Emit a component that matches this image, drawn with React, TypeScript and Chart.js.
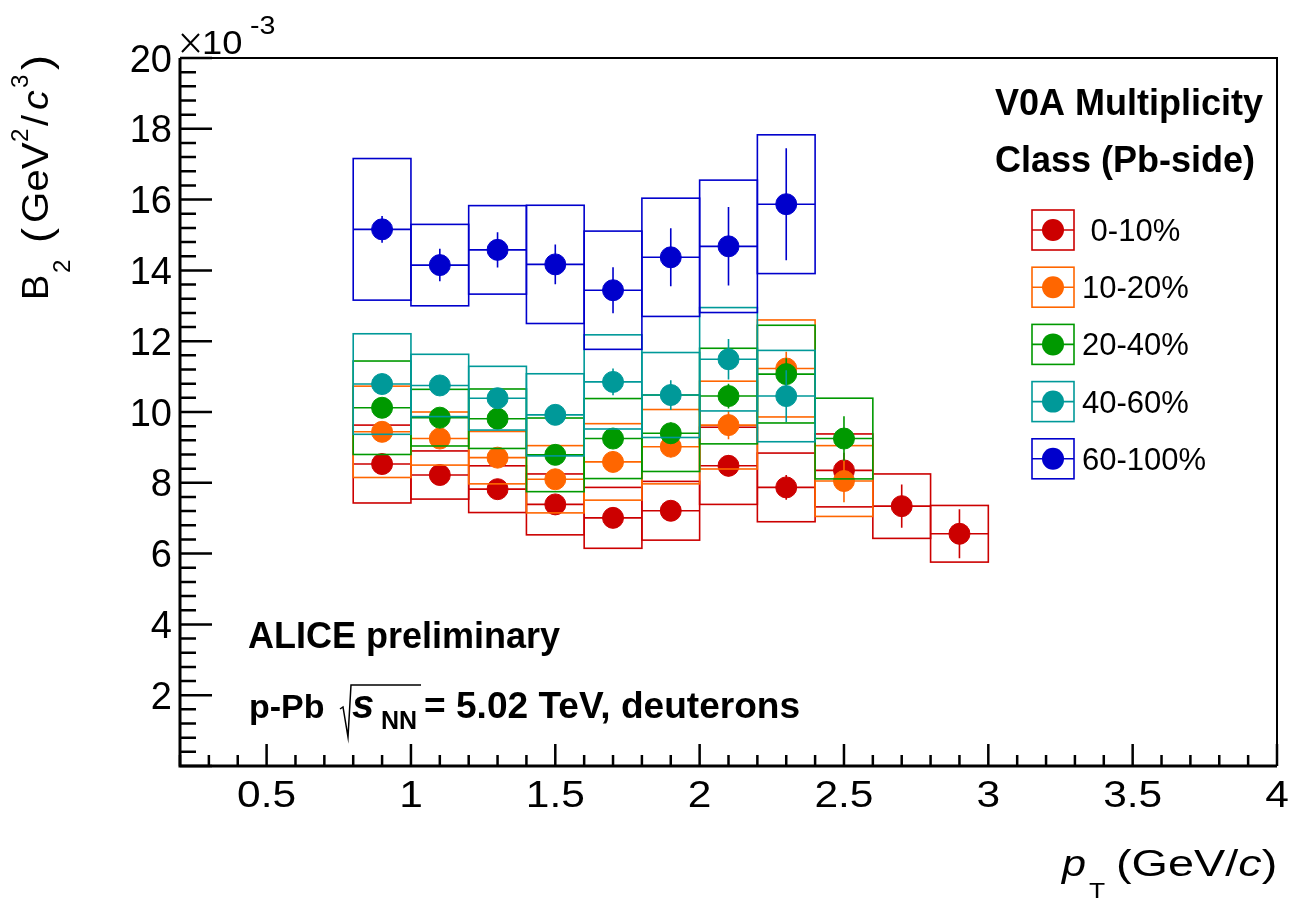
import { useEffect, useRef } from "react";
import { Chart, registerables } from "chart.js";

Chart.register(...registerables);

// pT bin centres (GeV/c); every bin is 0.2 GeV/c wide
const BIN_CENTERS = [0.9, 1.1, 1.3, 1.5, 1.7, 1.9, 2.1, 2.3, 2.5, 2.7, 2.9];
const BIN_HALF_WIDTH = 0.1;

const CLASS_LABELS = [" 0-10%", "10-20%", "20-40%", "40-60%", "60-100%"];
const CLASS_COLORS = ["#cc0000", "#ff6600", "#009900", "#009999", "#0000cc"];

// B2 values in units of 1e-3 GeV^2/c^3, with statistical and systematic uncertainties
const B2_0_10 = [8.53, 8.22, 7.82, 7.39, 7.01, 7.21, 8.48, 7.87, 8.35, 7.34, 6.56];
const STAT_0_10 = [0.2, 0.2, 0.2, 0.25, 0.25, 0.25, 0.3, 0.35, 0.5, 0.61, 0.69];
const SYS_0_10 = [1.1, 0.68, 0.66, 0.86, 0.86, 0.83, 1.09, 0.97, 1.03, 0.91, 0.8];

const B2_10_20 = [9.44, 9.25, 8.71, 8.1, 8.59, 9.02, 9.63, 11.23, 8.05];
const STAT_10_20 = [0.2, 0.2, 0.22, 0.25, 0.25, 0.3, 0.4, 0.47, 0.6];
const SYS_10_20 = [1.29, 0.75, 0.74, 0.95, 1.08, 1.05, 1.24, 1.37, 1.0];

const B2_20_40 = [10.12, 9.84, 9.81, 8.79, 9.25, 9.4, 10.45, 11.07, 9.25];
const STAT_20_40 = [0.2, 0.2, 0.22, 0.25, 0.25, 0.3, 0.35, 0.45, 0.63];
const SYS_20_40 = [1.32, 0.8, 0.84, 1.04, 1.13, 1.08, 1.35, 1.38, 1.14];

const B2_40_60 = [10.79, 10.75, 10.39, 9.92, 10.85, 10.48, 11.49, 10.45];
const STAT_40_60 = [0.25, 0.25, 0.25, 0.28, 0.38, 0.42, 0.57, 0.73];
const SYS_40_60 = [1.42, 0.88, 0.9, 1.16, 1.33, 1.2, 1.46, 1.29];

const B2_60_100 = [15.16, 14.15, 14.58, 14.17, 13.44, 14.37, 14.68, 15.87];
const STAT_60_100 = [0.38, 0.46, 0.5, 0.56, 0.65, 0.82, 1.11, 1.58];
const SYS_60_100 = [2.0, 1.15, 1.25, 1.67, 1.67, 1.67, 1.87, 1.96];

// axes
const X_MIN = 0.2;
const X_MAX = 4;
const Y_MIN = 0;
const Y_MAX = 20;
const X_TICKS = [0.5, 1, 1.5, 2, 2.5, 3, 3.5, 4];
const X_TICK_LABELS = ["0.5", "1", "1.5", "2", "2.5", "3", "3.5", "4"];
const Y_TICKS = [2, 4, 6, 8, 10, 12, 14, 16, 18, 20];
const Y_TICK_LABELS = ["2", "4", "6", "8", "10", "12", "14", "16", "18", "20"];
const X_MINOR_STEP = 0.1;
const Y_MINOR_STEP = 0.4;

const FONT = "'Liberation Sans', Arial, Helvetica, sans-serif";

type Series = { label: string; color: string; y: number[]; stat: number[]; sys: number[] };

const SERIES: Series[] = [
  { label: CLASS_LABELS[0], color: CLASS_COLORS[0], y: B2_0_10, stat: STAT_0_10, sys: SYS_0_10 },
  { label: CLASS_LABELS[1], color: CLASS_COLORS[1], y: B2_10_20, stat: STAT_10_20, sys: SYS_10_20 },
  { label: CLASS_LABELS[2], color: CLASS_COLORS[2], y: B2_20_40, stat: STAT_20_40, sys: SYS_20_40 },
  { label: CLASS_LABELS[3], color: CLASS_COLORS[3], y: B2_40_60, stat: STAT_40_60, sys: SYS_40_60 },
  { label: CLASS_LABELS[4], color: CLASS_COLORS[4], y: B2_60_100, stat: STAT_60_100, sys: SYS_60_100 },
];

// draws text horizontally stretched by sx, anchored at (x, baseline y); returns drawn width
function put(
  ctx: CanvasRenderingContext2D,
  text: string,
  x: number,
  y: number,
  font: string,
  sx = 1,
  align: "left" | "center" | "right" = "left"
) {
  ctx.save();
  ctx.font = font;
  ctx.textAlign = "left";
  ctx.textBaseline = "alphabetic";
  const w = ctx.measureText(text).width * sx;
  const x0 = align === "right" ? x - w : align === "center" ? x - w / 2 : x;
  ctx.translate(x0, y);
  ctx.scale(sx, 1);
  ctx.fillText(text, 0, 0);
  ctx.restore();
  return w;
}

const seriesPlugin = {
  id: "sysBoxes",
  beforeDatasetDraw(chart: any, args: any) {
    const s = SERIES[args.index];
    if (!s) return;
    const { ctx } = chart;
    const xs = chart.scales.x;
    const ys = chart.scales.y;
    ctx.save();
    ctx.strokeStyle = s.color;
    ctx.lineWidth = 1.6;
    s.y.forEach((v, j) => {
      const xc = BIN_CENTERS[j];
      const xl = xs.getPixelForValue(xc - BIN_HALF_WIDTH);
      const xr = xs.getPixelForValue(xc + BIN_HALF_WIDTH);
      const xm = xs.getPixelForValue(xc);
      const yt = ys.getPixelForValue(v + s.sys[j]);
      const yb = ys.getPixelForValue(v - s.sys[j]);
      const yv = ys.getPixelForValue(v);
      ctx.strokeRect(xl, yt, xr - xl, yb - yt);
      ctx.beginPath();
      ctx.moveTo(xl, yv);
      ctx.lineTo(xr, yv);
      ctx.moveTo(xm, ys.getPixelForValue(v + s.stat[j]));
      ctx.lineTo(xm, ys.getPixelForValue(v - s.stat[j]));
      ctx.stroke();
    });
    ctx.restore();
  },
};

const framePlugin = {
  id: "rootFrame",
  afterDraw(chart: any) {
    const { ctx, chartArea } = chart;
    const { left, right, top, bottom } = chartArea;
    const xs = chart.scales.x;
    const ys = chart.scales.y;
    ctx.save();
    ctx.strokeStyle = "#000";
    ctx.fillStyle = "#000";

    // ticks (pointing into the frame)
    ctx.lineWidth = 2.5;
    ctx.beginPath();
    for (let v = Y_MIN; v <= Y_MAX + 1e-9; v += Y_MINOR_STEP) {
      const py = ys.getPixelForValue(v);
      const major = Math.abs(v / 2 - Math.round(v / 2)) < 1e-6;
      ctx.moveTo(left, py);
      ctx.lineTo(left + (major ? 32 : 16), py);
    }
    for (let v = X_MIN; v <= X_MAX + 1e-9; v += X_MINOR_STEP) {
      const px = xs.getPixelForValue(v);
      const major = Math.abs(v * 2 - Math.round(v * 2)) < 1e-6;
      ctx.moveTo(px, bottom);
      ctx.lineTo(px, bottom - (major ? 22 : 11));
    }
    ctx.stroke();

    // frame
    ctx.lineWidth = 2;
    ctx.beginPath();
    ctx.moveTo(left, top);
    ctx.lineTo(right, top);
    ctx.lineTo(right, bottom);
    ctx.stroke();
    ctx.lineWidth = 3;
    ctx.beginPath();
    ctx.moveTo(left, top);
    ctx.lineTo(left, bottom);
    ctx.lineTo(right, bottom);
    ctx.stroke();

    // tick labels
    Y_TICKS.forEach((v, i) => {
      put(ctx, Y_TICK_LABELS[i], left - 8, ys.getPixelForValue(v) + 13.5, `38px ${FONT}`, 1, "right");
    });
    X_TICKS.forEach((v, i) => {
      put(ctx, X_TICK_LABELS[i], xs.getPixelForValue(v), 807, `36px ${FONT}`, 1.18, "center");
    });

    // exponent: ×10^-3
    ctx.lineWidth = 2;
    ctx.beginPath();
    ctx.moveTo(182, 34);
    ctx.lineTo(199, 52);
    ctx.moveTo(199, 34);
    ctx.lineTo(182, 52);
    ctx.stroke();
    put(ctx, "10", 202, 54, `33px ${FONT}`, 1.1);
    put(ctx, "-3", 250, 34, `26px ${FONT}`, 1.1);

    // x title: pT (GeV/c)
    put(ctx, "p", 1062, 876, `italic 36px ${FONT}`, 1.2);
    put(ctx, "T", 1089, 898, `22px ${FONT}`, 1.2);
    let gx = 1116;
    gx += put(ctx, "(GeV/", gx, 876, `36px ${FONT}`, 1.3);
    gx += put(ctx, "c", gx, 876, `italic 36px ${FONT}`, 1.3);
    put(ctx, ")", gx, 876, `36px ${FONT}`, 1.3);

    // y title: B2 (GeV^2/c^3), reading upwards
    ctx.save();
    ctx.translate(48, 300);
    ctx.rotate(-Math.PI / 2);
    put(ctx, "B", 0, 0, `36px ${FONT}`, 1.05);
    put(ctx, "2", 27, 22, `23px ${FONT}`, 1.05);
    put(ctx, "(", 57, 3, `41px ${FONT}`, 1.1);
    put(ctx, "GeV", 77, 0, `36px ${FONT}`, 1.12);
    put(ctx, "2", 158, -20, `23px ${FONT}`, 1.05);
    put(ctx, "/", 174, 0, `36px ${FONT}`, 1.1);
    put(ctx, "c", 190, 0, `italic 36px ${FONT}`, 1.1);
    put(ctx, "3", 212, -20, `23px ${FONT}`, 1.05);
    put(ctx, ")", 230, 3, `41px ${FONT}`, 1.1);
    ctx.restore();

    // legend header
    put(ctx, "V0A Multiplicity", 995, 115, `bold 36px ${FONT}`);
    put(ctx, "Class (Pb-side)", 995, 172, `bold 36px ${FONT}`);

    // legend entries
    SERIES.forEach((s, k) => {
      const cy = 230 + k * 57.2;
      ctx.strokeStyle = s.color;
      ctx.fillStyle = s.color;
      ctx.lineWidth = 1.6;
      ctx.strokeRect(1032, cy - 20, 42, 40);
      ctx.beginPath();
      ctx.moveTo(1032, cy);
      ctx.lineTo(1074, cy);
      ctx.stroke();
      ctx.beginPath();
      ctx.arc(1053, cy, 11, 0, Math.PI * 2);
      ctx.fill();
      ctx.fillStyle = "#000";
      put(ctx, s.label, 1082, cy + 11, `31px ${FONT}`);
    });

    // annotation
    ctx.fillStyle = "#000";
    ctx.strokeStyle = "#000";
    put(ctx, "ALICE preliminary", 248, 648, `bold 36px ${FONT}`);
    put(ctx, "p-Pb", 249, 718, `bold 34px ${FONT}`);
    ctx.lineWidth = 1.5;
    ctx.beginPath();
    ctx.moveTo(340, 709);
    ctx.lineTo(343, 707);
    ctx.lineTo(348, 737);
    ctx.lineTo(351, 685);
    ctx.lineTo(421, 685);
    ctx.stroke();
    put(ctx, "s", 352, 718, `italic bold 40px ${FONT}`);
    put(ctx, "NN", 381, 729, `bold 25px ${FONT}`);
    put(ctx, "= 5.02 TeV, deuterons", 424, 718, `bold 36px ${FONT}`, 1.03);

    ctx.restore();
  },
};

export default function App() {
  const ref = useRef<HTMLCanvasElement>(null);

  useEffect(() => {
    const canvas = ref.current;
    if (!canvas) return;
    const datasets = SERIES.map((s, i) => ({
      label: s.label,
      data: s.y.map((v, j) => ({ x: BIN_CENTERS[j], y: v })),
      showLine: false,
      pointRadius: 10.5,
      pointHoverRadius: 10.5,
      pointBackgroundColor: s.color,
      pointBorderColor: s.color,
      pointBorderWidth: 1,
      backgroundColor: s.color,
      borderColor: s.color,
      order: SERIES.length - 1 - i,
    }));
    const chart = new Chart(canvas, {
      type: "scatter",
      data: { datasets },
      options: {
        animation: false,
        responsive: false,
        events: [],
        layout: { padding: { left: 180, top: 58, right: 32, bottom: 133 } },
        plugins: { legend: { display: false }, tooltip: { enabled: false } },
        scales: {
          x: { type: "linear", min: X_MIN, max: X_MAX, display: false },
          y: { type: "linear", min: Y_MIN, max: Y_MAX, display: false },
        },
      },
      plugins: [seriesPlugin, framePlugin],
    });
    return () => chart.destroy();
  }, []);

  return (
    <canvas
      ref={ref}
      width={1309}
      height={899}
      style={{ position: "fixed", left: 0, top: 0, display: "block", background: "#fff" }}
    />
  );
}
